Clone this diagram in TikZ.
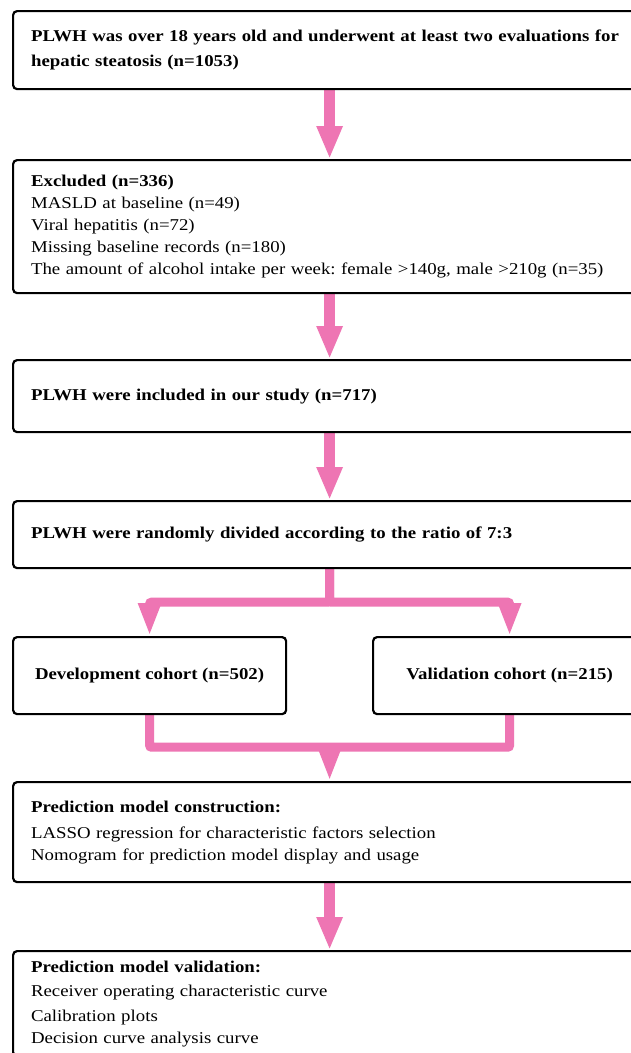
\documentclass[tikz,border=0pt]{standalone}
\usepackage{fontspec}
\setmainfont{Liberation Serif}[FakeStretch=1.14]
\usetikzlibrary{arrows.meta,backgrounds}
\definecolor{flowpink}{RGB}{238,117,179}
\frenchspacing
\tikzset{
  box/.style={draw=black, line width=2.2pt, rounded corners=4pt, fill=white,
    anchor=north west, inner ysep=0pt,
    font=\fontsize{16.5}{22}\selectfont},
  widebox/.style={box, align=left, inner xsep=18pt, minimum width=633pt, text width=597pt},
  cohortbox/.style={box, align=center, inner xsep=4pt, minimum width=273pt, minimum height=77pt},
  mainarrow/.style={draw=flowpink, line width=11.5pt, -{Triangle[width=24pt,length=33pt]}},
  branch/.style={draw=flowpink, line width=9pt, rounded corners=2pt},
  brancharrow/.style={branch, -{Triangle[width=21pt,length=33pt]}}
}
\begin{document}
\begin{tikzpicture}[x=1pt,y=-1pt]
\useasboundingbox (0,0) rectangle (631,1053);
\clip (0,0) rectangle (631,1053);

\node[widebox, minimum height=78pt] (b1) at (12,10)
  {\textbf{PLWH was over 18 years old and underwent at least two evaluations for}\\[3.5pt]
   \textbf{hepatic steatosis (n=1053)}};

\node[widebox, minimum height=133pt] (b2) at (12,159)
  {\textbf{Excluded (n=336)}\\
   MASLD at baseline (n=49)\\
   Viral hepatitis (n=72)\\
   Missing baseline records (n=180)\\
   The amount of alcohol intake per week: female >140g, male >210g (n=35)};

\node[widebox, minimum height=72pt] (b3) at (12,359)
  {\textbf{PLWH were included in our study (n=717)}};

\node[widebox, minimum height=67pt] (b4) at (12,500)
  {\textbf{PLWH were randomly divided according to the ratio of 7:3}};

\node[cohortbox] (dev) at (12,636) {\textbf{Development cohort (n=502)}};
\node[cohortbox] (val) at (372,636) {\textbf{Validation cohort (n=215)}};

\node[widebox, minimum height=100pt] (b5) at (12,781)
  {\textbf{Prediction model construction:}\\[4pt]
   LASSO regression for characteristic factors selection\\
   Nomogram for prediction model display and usage};

\node[widebox, minimum height=105pt] (b6) at (12,950)
  {\textbf{Prediction model validation:}\\[2.5pt]
   Receiver operating characteristic curve\\[2.5pt]
   Calibration plots\\
   Decision curve analysis curve};

\begin{scope}[on background layer]
  \fill[white] (0,0) rectangle (631,1053);
  \draw[mainarrow] (b1.south) -- (b2.north);
  \draw[mainarrow] (b2.south) -- (b3.north);
  \draw[mainarrow] (b3.south) -- (b4.north);
  \draw[brancharrow] (b4.south) -- ++(0,33) -| (dev.north);
  \draw[brancharrow] (b4.south) -- ++(0,33) -| (val.north);
  \draw[branch] (dev.south) -- ++(0,32) -| (val.south);
  \draw[brancharrow] (b5.north |- dev.south) ++(0,32) -- (b5.north);
  \draw[mainarrow] (b5.south) -- (b6.north);
\end{scope}
\end{tikzpicture}
\end{document}
